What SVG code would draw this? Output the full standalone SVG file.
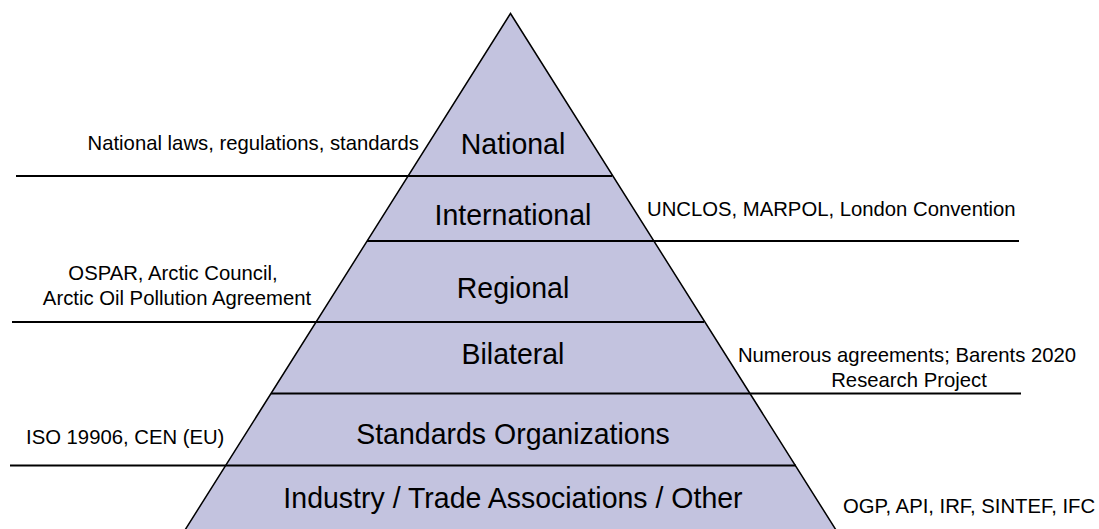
<svg xmlns="http://www.w3.org/2000/svg" width="1099" height="529" viewBox="0 0 1099 529">
  <style>
    .tier { font-family: "Liberation Sans", Arial, sans-serif; font-size: 30px; fill: #000; text-anchor: middle; }
    .note { font-family: "Liberation Sans", Arial, sans-serif; font-size: 20.3px; fill: #000; }
    .rule { stroke: #000; stroke-width: 2; fill: none; }
  </style>
  <rect width="1099" height="529" fill="#ffffff"/>

  <!-- pyramid body -->
  <g id="pyramid">
    <polygon points="510.5,13.5 185,530 836,530" fill="#c3c3df" stroke="#000" stroke-width="1.5" stroke-linejoin="miter"/>
  </g>

  <!-- divider rules between tiers, extended outward to the notes -->
  <g id="connectors">
    <line class="rule" x1="16" y1="176" x2="612" y2="176"/>
    <line class="rule" x1="367" y1="241" x2="1019" y2="241"/>
    <line class="rule" x1="12" y1="322" x2="704" y2="322"/>
    <line class="rule" x1="271" y1="393.5" x2="1021" y2="393.5"/>
    <line class="rule" x1="10" y1="465.5" x2="796" y2="465.5"/>
  </g>

  <!-- tier titles are slightly condensed around the centre line x=513 -->
  <g id="tier-national">
    <text class="tier" x="513" y="154" transform="matrix(0.95 0 0 1 25.65 0)">National</text>
    <text class="note" x="419" y="150" text-anchor="end">National laws, regulations, standards</text>
  </g>
  <g id="tier-international">
    <text class="tier" x="513" y="225" transform="matrix(0.95 0 0 1 25.65 0)">International</text>
    <text class="note" x="647" y="216">UNCLOS, MARPOL, London Convention</text>
  </g>
  <g id="tier-regional">
    <text class="tier" x="513" y="298" transform="matrix(0.95 0 0 1 25.65 0)">Regional</text>
    <text class="note" x="173" y="280" text-anchor="middle">OSPAR, Arctic Council,</text>
    <text class="note" x="177" y="305" text-anchor="middle">Arctic Oil Pollution Agreement</text>
  </g>
  <g id="tier-bilateral">
    <text class="tier" x="513" y="364" transform="matrix(0.95 0 0 1 25.65 0)">Bilateral</text>
    <text class="note" x="907" y="362" text-anchor="middle">Numerous agreements; Barents 2020</text>
    <text class="note" x="909" y="387" text-anchor="middle">Research Project</text>
  </g>
  <g id="tier-standards">
    <text class="tier" x="513" y="444" transform="matrix(0.95 0 0 1 25.65 0)">Standards Organizations</text>
    <text class="note" x="26" y="444">ISO 19906, CEN (EU)</text>
  </g>
  <g id="tier-industry">
    <text class="tier" x="513" y="508" transform="matrix(0.95 0 0 1 25.65 0)">Industry / Trade Associations / Other</text>
    <text class="note" x="843" y="513">OGP, API, IRF, SINTEF, IFC</text>
  </g>
</svg>
